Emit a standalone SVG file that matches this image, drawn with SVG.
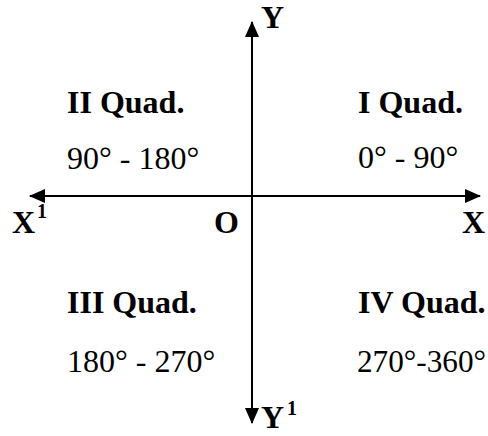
<svg xmlns="http://www.w3.org/2000/svg" width="488" height="436" viewBox="0 0 488 436">
<style>
.b{font-family:"Liberation Serif","Times New Roman",serif;font-weight:bold;font-size:32px;fill:#000}
.r{font-family:"Liberation Serif","Times New Roman",serif;font-size:32px;fill:#000}
.s{font-size:20px}
.ax{stroke:#000;stroke-width:2;fill:none}
</style>
<defs>
<marker id="ah" viewBox="0 0 16 14" refX="15" refY="7" markerWidth="16" markerHeight="14" markerUnits="userSpaceOnUse" orient="auto">
<path d="M0,0 L16,7 L0,14 Z" fill="#000"/>
</marker>
</defs>
<g id="connectors">
<line class="ax" x1="252" y1="196" x2="30" y2="196" marker-end="url(#ah)"/>
<line class="ax" x1="252" y1="196" x2="480" y2="196" marker-end="url(#ah)"/>
<line class="ax" x1="252" y1="196" x2="252" y2="22" marker-end="url(#ah)"/>
<line class="ax" x1="252" y1="196" x2="252" y2="423" marker-end="url(#ah)"/>
</g>
<g id="q2"><text class="b" x="67" y="113">II Quad.</text><text class="r" x="67" y="169">90° - 180°</text></g>
<g id="q1"><text class="b" x="358" y="113">I Quad.</text><text class="r" x="358" y="168">0° - 90°</text></g>
<g id="q3"><text class="b" x="67" y="313">III Quad.</text><text class="r" x="67" y="372">180° - 270°</text></g>
<g id="q4"><text class="b" x="358" y="313">IV Quad.</text><text class="r" x="357" y="372" textLength="129" lengthAdjust="spacingAndGlyphs">270°-360°</text></g>
<g id="xneg"><text class="b" x="12" y="233">X</text><text class="b s" x="37" y="218">1</text></g>
<g id="xpos"><text class="b" x="462" y="233">X</text></g>
<g id="origin"><text class="b" x="214" y="233">O</text></g>
<g id="ypos"><text class="b" x="261" y="28">Y</text></g>
<g id="yneg"><text class="b" x="261" y="428">Y</text><text class="b s" x="287" y="415">1</text></g>
</svg>
